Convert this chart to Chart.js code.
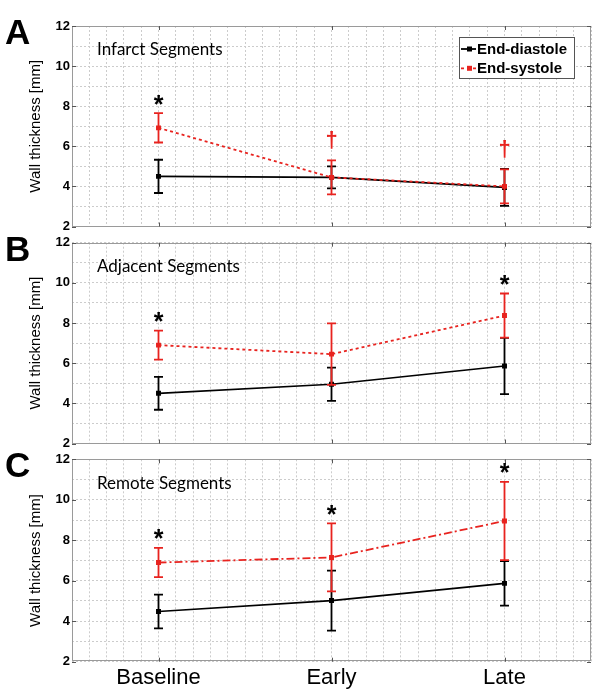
<!DOCTYPE html>
<html><head><meta charset="utf-8">
<script src="https://cdn.jsdelivr.net/npm/chart.js@4.4.0/dist/chart.umd.min.js"></script>
<style>
html,body{margin:0;padding:0;background:#fff;}
#wrap{position:relative;width:600px;height:692px;overflow:hidden;}
.pn{position:absolute;left:0;width:600px;}
</style></head><body>
<div id="wrap">
<div class="pn" style="top:0px;height:230px"><canvas id="cA"></canvas></div>
<div class="pn" style="top:232px;height:215px"><canvas id="cB"></canvas></div>
<div class="pn" style="top:447px;height:245px"><canvas id="cC"></canvas></div>
</div>
<script>
// ---- data ----
const categories = ['Baseline', 'Early', 'Late'];
const yTickLabels = [2, 4, 6, 8, 10, 12];
const seriesNames = ['End-diastole', 'End-systole'];

const infarctED   = [4.50, 4.45, 3.95];
const infarctEDsd = [0.83, 0.55, 0.92];
const infarctES   = [6.92, 4.45, 4.00];
const infarctESsd = [0.73, 0.85, 0.85];
const infarctSig  = ['*', '†', '†'];

const adjacentED   = [4.50, 4.95, 5.86];
const adjacentEDsd = [0.82, 0.83, 1.40];
const adjacentES   = [6.90, 6.45, 8.37];
const adjacentESsd = [0.72, 1.53, 1.10];
const adjacentSig  = ['*', '', '*'];

const remoteED   = [4.48, 5.02, 5.87];
const remoteEDsd = [0.83, 1.48, 1.10];
const remoteES   = [6.90, 7.15, 8.95];
const remoteESsd = [0.72, 1.68, 1.93];
const remoteSig  = ['*', '*', '*'];

// ---- styling ----
const RED = '#e8231f';
const GRID = '#cccccc';
const FONT = "'Liberation Sans', Arial, sans-serif";

function near(v, k) { return Math.abs(v - k) < 1e-6; }

const panelPlugin = {
  id: 'panelDecor',
  afterDatasetDraw(chart, args) {
    const ds = chart.data.datasets[args.index];
    const xs = chart.scales.x, ys = chart.scales.y, ctx = chart.ctx;
    ctx.save();
    ctx.strokeStyle = ds.borderColor;
    ctx.lineWidth = 1.8;
    ctx.setLineDash([]);
    ds.data.forEach((p, i) => {
      const sd = ds.err[i];
      const x = xs.getPixelForValue(p.x);
      const y1 = ys.getPixelForValue(p.y - sd), y2 = ys.getPixelForValue(p.y + sd);
      ctx.beginPath();
      ctx.moveTo(x, y1); ctx.lineTo(x, y2);
      ctx.moveTo(x - 4.5, y1); ctx.lineTo(x + 4.5, y1);
      ctx.moveTo(x - 4.5, y2); ctx.lineTo(x + 4.5, y2);
      ctx.stroke();
    });
    ctx.restore();
  },
  afterDraw(chart, args, opts) {
    const ctx = chart.ctx, a = chart.chartArea;
    const xs = chart.scales.x, ys = chart.scales.y;
    ctx.save();
    // box
    ctx.setLineDash([]);
    ctx.strokeStyle = '#9a9a9a';
    ctx.lineWidth = 1;
    ctx.strokeRect(Math.round(a.left) + 0.5, Math.round(a.top) + 0.5, Math.round(a.width) - 1, Math.round(a.height) - 1);
    // inner tick marks
    ctx.strokeStyle = '#555';
    ctx.beginPath();
    yTickLabels.forEach(v => {
      const y = Math.round(ys.getPixelForValue(v)) + 0.5;
      ctx.moveTo(a.left, y); ctx.lineTo(a.left + 4, y);
      ctx.moveTo(a.right - 4, y); ctx.lineTo(a.right, y);
    });
    categories.forEach((c, i) => {
      const x = Math.round(xs.getPixelForValue(i + 1)) + 0.5;
      ctx.moveTo(x, a.top); ctx.lineTo(x, a.top + 4);
      ctx.moveTo(x, a.bottom - 4); ctx.lineTo(x, a.bottom);
    });
    ctx.stroke();
    // panel letter
    ctx.fillStyle = '#000';
    ctx.font = "bold 35px " + FONT;
    ctx.textAlign = 'left';
    ctx.textBaseline = 'alphabetic';
    ctx.fillText(opts.letter, 5, a.top + 18);
    // panel title
    ctx.font = "17px Lato, 'Open Sans', sans-serif";
    ctx.textBaseline = 'middle';
    ctx.fillText(opts.title, a.left + 25, a.top + 24);
    // significance markers above the end-systole error bar
    const es = chart.data.datasets[1];
    opts.sig.forEach((s, i) => {
      if (!s) return;
      const x = xs.getPixelForValue(es.data[i].x);
      const yTop = ys.getPixelForValue(es.data[i].y + es.err[i]);
      ctx.textAlign = 'center';
      ctx.textBaseline = 'alphabetic';
      if (s === '*') {
        ctx.fillStyle = '#000';
        ctx.font = "bold 25px " + FONT;
        ctx.fillText(s, x, yTop - 15 + 14.5);
      } else {
        ctx.fillStyle = RED;
        ctx.font = "bold 22px " + FONT;
        ctx.fillText(s, x, yTop - 13);
      }
    });
    // legend
    if (opts.legend) {
      const L = { x: a.right - 132, y: a.top + 11, w: 115, h: 41 };
      ctx.fillStyle = '#fff';
      ctx.fillRect(L.x, L.y, L.w, L.h);
      ctx.strokeStyle = '#555';
      ctx.lineWidth = 1;
      ctx.strokeRect(Math.round(L.x) + 0.5, Math.round(L.y) + 0.5, L.w, L.h);
      chart.data.datasets.forEach((ds, j) => {
        const cy = L.y + 12 + j * 19.3;
        ctx.strokeStyle = ds.borderColor;
        ctx.lineWidth = 1.8;
        ctx.setLineDash(ds.borderDash || []);
        ctx.beginPath();
        ctx.moveTo(L.x + 2, cy); ctx.lineTo(L.x + 17, cy);
        ctx.stroke();
        ctx.setLineDash([]);
        ctx.fillStyle = ds.borderColor;
        ctx.fillRect(L.x + 8, cy - 2.5, 5, 5);
        ctx.fillStyle = '#000';
        ctx.font = "bold 15px " + FONT;
        ctx.textAlign = 'left';
        ctx.textBaseline = 'middle';
        ctx.fillText(ds.label, L.x + 18, cy + 1);
      });
    }
    ctx.restore();
  }
};

function makePanel(id, p) {
  const pts = arr => arr.map((v, i) => ({ x: i + 1, y: v }));
  return new Chart(document.getElementById(id), {
    type: 'line',
    data: {
      datasets: [
        { label: seriesNames[0], data: pts(p.ed), err: p.edSd, borderColor: '#000', backgroundColor: '#000',
          borderWidth: 1.7, pointStyle: 'rect', pointRadius: 3.5, pointHoverRadius: 3.5, pointBorderWidth: 0, order: 2 },
        { label: seriesNames[1], data: pts(p.es), err: p.esSd, borderColor: RED, backgroundColor: RED,
          borderWidth: 1.8, borderDash: p.dash, pointStyle: 'rect', pointRadius: 3.5, pointHoverRadius: 3.5, pointBorderWidth: 0, order: 1 }
      ]
    },
    options: {
      responsive: true, maintainAspectRatio: false, animation: false,
      layout: { padding: { top: p.padTop, bottom: p.padBottom, left: 0, right: 9 } },
      plugins: {
        legend: { display: false }, tooltip: { enabled: false },
        panelDecor: { letter: p.letter, title: p.title, sig: p.sig, legend: p.legend }
      },
      scales: {
        x: {
          type: 'linear', min: 0.5, max: 3.5,
          ticks: {
            stepSize: 0.1, autoSkip: false, maxRotation: 0, minRotation: 0, display: p.showX, padding: 3,
            font: { family: FONT, size: 22 }, color: '#000',
            callback: v => { const k = Math.round(v); return (near(v, k) && k >= 1 && k <= 3) ? categories[k - 1] : ''; }
          },
          grid: { color: GRID, lineWidth: 1, drawTicks: false },
          border: { display: false, dash: [2, 2] },
          afterFit: s => { s.height = p.xHeight; s.paddingLeft = 0; s.paddingRight = 0; }
        },
        y: {
          min: 2, max: 12,
          ticks: {
            stepSize: 1, padding: 2, font: { family: FONT, size: 13, weight: 'bold' }, color: '#000',
            callback: v => yTickLabels.includes(v) ? String(v) : ''
          },
          grid: { color: GRID, lineWidth: 1, drawTicks: false },
          border: { display: false, dash: [2, 2] },
          title: { display: true, text: 'Wall thickness [mm]', font: { family: FONT, size: 15 }, color: '#000', padding: { top: 27, bottom: 0 } },
          afterFit: s => { s.width = 72; s.paddingTop = 0; s.paddingBottom = 0; }
        }
      }
    },
    plugins: [panelPlugin]
  });
}

makePanel('cA', { ed: infarctED, edSd: infarctEDsd, es: infarctES, esSd: infarctESsd, sig: infarctSig,
  dash: [3, 3], letter: 'A', title: 'Infarct Segments', legend: true,
  padTop: 26, padBottom: 2.5, xHeight: 0, showX: false });
makePanel('cB', { ed: adjacentED, edSd: adjacentEDsd, es: adjacentES, esSd: adjacentESsd, sig: adjacentSig,
  dash: [3, 3], letter: 'B', title: 'Adjacent Segments', legend: false,
  padTop: 10.7, padBottom: 2.4, xHeight: 0, showX: false });
makePanel('cC', { ed: remoteED, edSd: remoteEDsd, es: remoteES, esSd: remoteESsd, sig: remoteSig,
  dash: [8, 3, 2, 3], letter: 'C', title: 'Remote Segments', legend: false,
  padTop: 12.3, padBottom: 0, xHeight: 30.3, showX: true });
</script>
</body></html>
